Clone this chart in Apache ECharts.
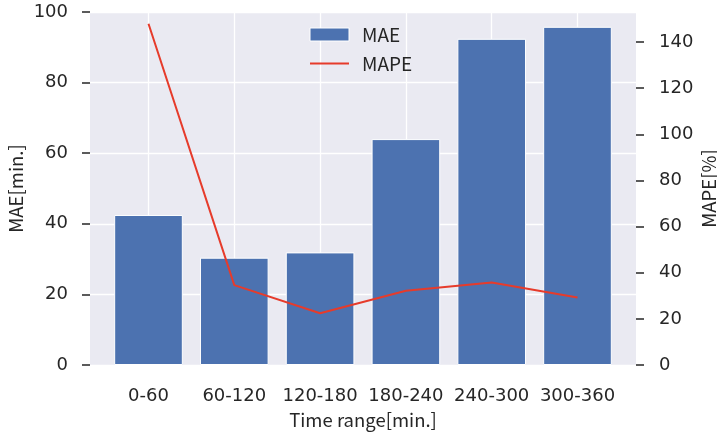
<!DOCTYPE html>
<html>
<head>
<meta charset="utf-8">
<script src="https://cdn.jsdelivr.net/npm/echarts@6/dist/echarts.min.js"></script>
<style>html,body{margin:0;padding:0;background:#fff}#c{width:717px;height:434px}</style>
</head>
<body>
<div id="c"></div>
<script>
const categories = ['0-60', '60-120', '120-180', '180-240', '240-300', '300-360'];
const maeValues = [42.5, 30.4, 31.9, 64.0, 92.4, 95.8];
const mapeValues = [147.9, 34.6, 22.4, 32.2, 35.8, 29.3];
const leftTicks = [0, 20, 40, 60, 80, 100];
const rightTicks = [0, 20, 40, 60, 80, 100, 120, 140];

const FONT = '"Noto Sans CJK JP", "Noto Sans", sans-serif';
const NUMFONT = '"DejaVu Sans", sans-serif';
const TXT = '#262626';
const chart = echarts.init(document.getElementById('c'), null, {renderer: 'canvas'});
chart.setOption({
  animation: false,
  textStyle: {fontFamily: FONT, color: TXT},
  grid: [
    {left: 90, right: 81, top: 12, bottom: 69, show: true, backgroundColor: '#EAEAF2', borderWidth: 0,
     containLabel: false, outerBoundsMode: 'none'},
    {left: 105.6, right: 96.6, top: 12, bottom: 69, containLabel: false, outerBoundsMode: 'none'}
  ],
  legend: {
    orient: 'vertical', left: 304, top: 20, itemWidth: 39, itemHeight: 13, itemGap: 10,
    textStyle: {fontFamily: FONT, fontSize: 19, color: TXT, padding: [0, 0, 0, 8]},
    data: [
      {name: 'MAE', icon: 'rect', itemStyle: {borderColor: '#fff', borderWidth: 1}},
      {name: 'MAPE', itemStyle: {opacity: 0}}
    ]
  },
  xAxis: [
    {gridIndex: 0, type: 'value', min: 0, max: 1, show: false},
    {gridIndex: 1, type: 'category', data: categories, boundaryGap: true,
     axisLine: {show: false}, axisTick: {show: false},
     axisLabel: {fontFamily: NUMFONT, fontSize: 18, color: TXT, margin: 22, interval: 0},
     splitLine: {show: true, interval: 0, alignWithLabel: true, lineStyle: {color: '#fff', width: 1.3}},
     name: 'Time range[min.]', nameLocation: 'middle', nameGap: 46, nameMoveOverlap: false,
     nameTextStyle: {fontFamily: FONT, fontSize: 18.5, color: TXT}}
  ],
  yAxis: [
    {gridIndex: 0, type: 'value', position: 'left', min: 0, max: 100, interval: 20,
     axisLine: {show: false},
     axisTick: {show: true, length: 8, lineStyle: {color: TXT, width: 1.5}},
     axisLabel: {fontFamily: NUMFONT, fontSize: 18, color: TXT, margin: 22},
     splitLine: {show: true, lineStyle: {color: '#fff', width: 1.3}},
     name: 'MAE[min.]', nameLocation: 'middle', nameGap: 65, nameMoveOverlap: false,
     nameTextStyle: {fontFamily: FONT, fontSize: 18.5, color: TXT}},
    {gridIndex: 0, type: 'value', position: 'right', min: 0, max: 153,
     axisLine: {show: false},
     axisTick: {show: true, length: 8, customValues: rightTicks, lineStyle: {color: TXT, width: 1.5}},
     axisLabel: {fontFamily: NUMFONT, fontSize: 18, color: TXT, margin: 23, customValues: rightTicks},
     splitLine: {show: false},
     name: 'MAPE[%]', nameLocation: 'middle', nameGap: 64, nameRotate: 90, nameMoveOverlap: false,
     nameTextStyle: {fontFamily: FONT, fontSize: 18.5, color: TXT}},
    {gridIndex: 1, type: 'value', min: 0, max: 100, show: false, splitLine: {show: false}},
    {gridIndex: 1, type: 'value', min: 0, max: 153, show: false, splitLine: {show: false}}
  ],
  series: [
    {name: 'MAE', type: 'bar', xAxisIndex: 1, yAxisIndex: 2, data: maeValues,
     barWidth: '80%', itemStyle: {color: '#4C72B0', borderColor: '#fff', borderWidth: 1}, z: 2},
    {name: 'MAPE', type: 'line', xAxisIndex: 1, yAxisIndex: 3, data: mapeValues,
     symbol: 'none', lineStyle: {color: '#E63B2B', width: 2}, itemStyle: {color: '#E63B2B'}, z: 3}
  ]
});
</script>
</body>
</html>
